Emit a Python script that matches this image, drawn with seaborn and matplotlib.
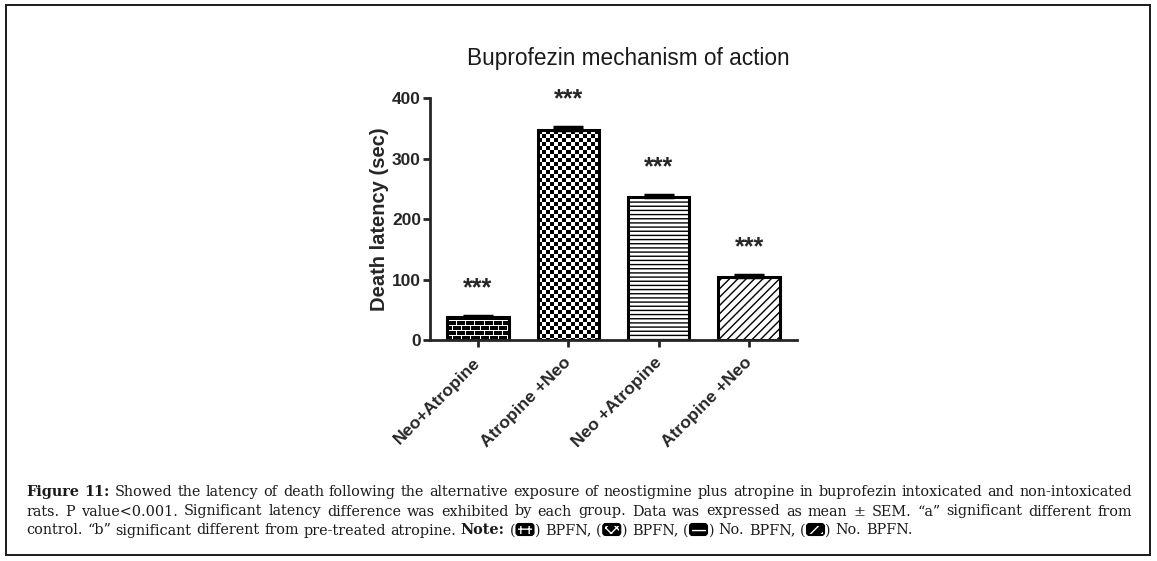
import numpy as np
import pandas as pd
import matplotlib
matplotlib.use('Agg')
import matplotlib.pyplot as plt
import matplotlib.transforms as mtransforms
import seaborn as sns
from matplotlib.patches import Rectangle, FancyBboxPatch

# data
groups = ['BPFN Neo+Atropine', 'BPFN Atropine +Neo', 'No BPFN Neo +Atropine', 'No BPFN Atropine +Neo']
tick_labels = ['Neo+Atropine', 'Atropine +Neo', 'Neo +Atropine', 'Atropine +Neo']
latency = [38, 347, 237, 104]
sem = [2, 5, 3, 3]
stars = ['***', '***', '***', '***']

df = pd.DataFrame({'group': groups, 'latency': latency, 'sem': sem})

W, H = 1157, 561
sns.set_theme(style='ticks')
plt.rcParams['font.family'] = ['Liberation Sans', 'DejaVu Sans']
plt.rcParams['hatch.linewidth'] = 1.0
plt.rcParams['hatch.color'] = 'black'

fig = plt.figure(figsize=(W / 100, H / 100), dpi=100)
ax = fig.add_axes([430 / W, 1 - 340 / H, (797 - 430) / W, (340 - 98.3) / H])

sns.barplot(data=df, x='group', y='latency', order=groups, color='white',
            edgecolor='black', linewidth=2.2, width=0.68, errorbar=None, ax=ax)
bars = ax.patches

# error bars (upper half only, as in the original)
ax.errorbar(range(len(groups)), df['latency'], yerr=[np.zeros(len(sem)), df['sem']],
            fmt='none', ecolor='black', elinewidth=2, capsize=11, capthick=2.5, zorder=3)

ax.set_xlim(-0.53, 3.53)
ax.set_ylim(0, 400)
fig.canvas.draw()


def bar_pixels(bar):
    bb = bar.get_window_extent()
    return max(int(round(bb.width)), 2), max(int(round(bb.height)), 2)


# brick pattern for bar 1
w1, h1 = bar_pixels(bars[0])
brick = np.zeros((h1, w1))
for i in range(h1):
    row = (i - 3) // 5
    if i >= 3 and (i - 3) % 5 == 0:
        brick[i, :] = 1
    elif i >= 3:
        off = 0 if row % 2 == 0 else 4
        for j in range(w1):
            if (j + off) % 9 == 0:
                brick[i, j] = 1
# checker pattern for bar 2
w2, h2 = bar_pixels(bars[1])
ii, jj = np.mgrid[0:h2, 0:w2]
checker = ((ii // 4 + jj // 4) % 2).astype(float)

for bar, pat in [(bars[0], brick), (bars[1], checker)]:
    x0 = bar.get_x()
    im = ax.imshow(pat, cmap='gray', vmin=0, vmax=1, interpolation='nearest', aspect='auto',
                   extent=(x0, x0 + bar.get_width(), 0, bar.get_height()), zorder=0.5)
    im.set_clip_path(bar)
    bar.set_facecolor('none')
    bar.set_zorder(1)

bars[2].set_hatch('----')
bars[3].set_hatch('////')
ax.set_xlim(-0.53, 3.53)
ax.set_ylim(0, 400)

for i, (v, s, st) in enumerate(zip(latency, sem, stars)):
    ax.text(i, v + s + 46, st, ha='center', va='center', fontsize=18, fontweight='bold')

sns.despine(ax=ax)
for sp in ['left', 'bottom']:
    ax.spines[sp].set_linewidth(2)
ax.tick_params(axis='both', direction='out', length=5, width=2, pad=1.5)
ax.set_yticks([0, 100, 200, 300, 400])
ax.set_yticklabels(['0', '100', '200', '300', '400'], fontsize=12.5, fontweight='bold')
ax.set_xticks(range(len(groups)))
ax.set_xticklabels(tick_labels, rotation=45, ha='right', rotation_mode='anchor',
                   fontsize=12.6, fontweight='bold')
shift = mtransforms.ScaledTranslation(-5 / 100, 0, fig.dpi_scale_trans)
for lab in ax.get_xticklabels():
    lab.set_y(-0.025)
    lab.set_transform(lab.get_transform() + shift)
ax.set_xlabel('')
ax.set_ylabel('Death latency (sec)', fontsize=14.5, fontweight='bold', labelpad=2)

fig.text(628 / W, 1 - 59 / H, 'Buprofezin mechanism of action', ha='center', va='center',
         fontsize=16.3, color='#1a1a1a')

# outer frame
fig.add_artist(Rectangle((6 / W, 1 - 555 / H), (1150 - 6) / W, (555 - 5) / H,
                         transform=fig.transFigure, fill=False, edgecolor='#1a1a1a', lw=1.4))

# caption, justified like the original
cap_font = dict(family=['DejaVu Serif'], fontsize=11, color='#1a1a1a')
renderer = fig.canvas.get_renderer()


def piece_width(kind, s):
    if kind == 'sw':
        return 20
    t = fig.text(0, 0, s, fontweight='bold' if kind == 'b' else 'normal', **cap_font)
    w = t.get_window_extent(renderer).width
    t.remove()
    return w


def words_of(s, kind='n'):
    return [[(kind, w)] for w in s.split()]


def draw_swatch(x, ybase, kind):
    yb = H - ybase - 1
    fig.add_artist(FancyBboxPatch((x + 1, yb), 18, 12, boxstyle='round,pad=0,rounding_size=3',
                                  transform=None, facecolor='black', edgecolor='black', lw=0.8))
    fig.add_artist(Rectangle((x + 3, yb + 2), 14, 8, transform=None, facecolor='black',
                             edgecolor='white', lw=0, hatch=kind))


def natural_width(words):
    space = piece_width('n', 'a a') - piece_width('n', 'aa')
    return sum(sum(piece_width(k, s) for k, s in w) for w in words) + space * (len(words) - 1)


def draw_line(words, ybase, x0, x1, justify):
    widths = [sum(piece_width(k, s) for k, s in w) for w in words]
    if justify:
        gap = (x1 - x0 - sum(widths)) / (len(words) - 1)
    else:
        gap = piece_width('n', 'a a') - piece_width('n', 'aa')
    x = x0
    for w, wd in zip(words, widths):
        xx = x
        for k, s in w:
            if k == 'sw':
                draw_swatch(xx, ybase, s)
            else:
                fig.text(xx / W, 1 - ybase / H, s, ha='left', va='baseline',
                         fontweight='bold' if k == 'b' else 'normal', **cap_font)
            xx += piece_width(k, s)
        x += wd + gap


line1 = words_of('Figure 11:', 'b') + words_of(
    'Showed the latency of death following the alternative exposure of neostigmine plus '
    'atropine in buprofezin intoxicated and non-intoxicated')
line2 = words_of('rats. P value<0.001. Significant latency difference was exhibited by each group. '
                 'Data was expressed as mean ± SEM. \u201ca\u201d significant different from')
line3 = (words_of('control. \u201cb\u201d significant different from pre-treated atropine.')
         + words_of('Note:', 'b')
         + [[('n', '('), ('sw', '++'), ('n', ')')]] + words_of('BPFN,')
         + [[('n', '('), ('sw', 'xxx'), ('n', ')')]] + words_of('BPFN,')
         + [[('n', '('), ('sw', '---'), ('n', ')')]] + words_of('No. BPFN,')
         + [[('n', '('), ('sw', '///'), ('n', ')')]] + words_of('No. BPFN.'))

# fit the caption size so the first line fills the frame with normal spacing
cap_font['fontsize'] = cap_font['fontsize'] * (1106 - 4) / natural_width(line1)

draw_line(line1, 496, 26, 1132, True)
draw_line(line2, 515.5, 26, 1132, True)
draw_line(line3, 534.5, 26, 1132, False)

fig.savefig('out.png', dpi=100)
